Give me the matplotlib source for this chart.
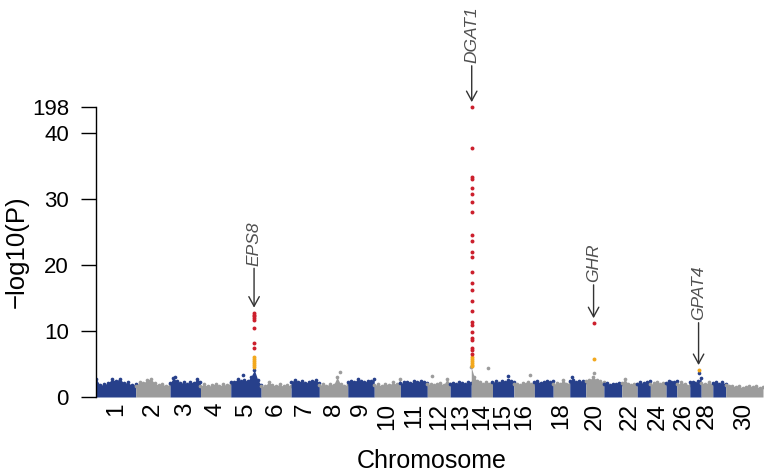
import numpy as np
import matplotlib
matplotlib.use("Agg")
import matplotlib.pyplot as plt

plt.rcParams['font.family'] = ['Liberation Sans', 'DejaVu Sans']

# ---------------- data ----------------
chrom_names = [str(i) for i in range(1, 31)]
chrom_len_mb = [158.3, 137.1, 121.4, 120.7, 121.2, 119.5, 112.6, 113.4, 105.7, 104.3,
                107.3, 91.2, 84.2, 84.6, 85.3, 81.7, 75.2, 66.0, 64.1, 72.0,
                71.6, 61.4, 52.5, 62.7, 42.9, 51.7, 45.4, 46.3, 51.5, 148.8]
shown_labels = ['1', '2', '3', '4', '5', '6', '7', '8', '9', '10', '11', '12', '13',
                '14', '15', '16', '18', '20', '22', '24', '26', '28', '30']

# upper edge of the dense background cloud (-log10 P), read along each chromosome
cloud_top = [
    [2.8, 1.8, 1.9, 2.1, 2.7, 2.4, 2.8, 2.1, 2.2, 1.8, 1.9],
    [1.7, 2.3, 2.1, 2.6, 2.7, 2.1, 1.8, 1.9, 1.7, 1.9],
    [2.1, 2.9, 2.4, 2.1, 2.2, 1.9, 2.3, 2.1, 2.8, 2.3],
    [1.7, 1.9, 1.6, 1.8, 2.0, 1.7, 1.9, 1.8, 2.1],
    [2.2, 2.3, 2.7, 2.4, 2.6, 2.4, 3.1, 4.1, 2.6, 1.8],
    [1.7, 1.6, 2.3, 1.8, 1.7, 1.9, 1.6, 1.8, 1.7],
    [2.3, 2.6, 2.3, 2.4, 2.1, 2.3, 2.4, 2.6, 2.1],
    [1.8, 1.9, 1.7, 2.0, 1.8, 3.0, 1.9, 1.7, 1.9],
    [2.2, 2.5, 2.3, 2.7, 2.4, 2.2, 2.5, 2.4, 2.7],
    [1.8, 1.9, 1.7, 2.0, 1.8, 2.2, 1.9, 2.7],
    [2.1, 2.2, 2.3, 2.1, 2.4, 2.2, 2.5, 2.3, 2.1],
    [1.9, 2.0, 1.8, 1.9, 2.1, 1.8, 2.7, 2.0],
    [2.0, 2.1, 1.9, 2.2, 2.1, 2.0, 2.2, 2.1],
    [4.5, 3.0, 2.4, 2.2, 2.0, 2.3, 2.0, 2.1],
    [2.2, 2.4, 2.1, 2.5, 2.3, 2.6, 2.4, 2.2],
    [1.9, 2.0, 1.8, 2.1, 1.9, 2.2, 2.0, 1.9],
    [2.2, 2.4, 2.1, 2.3, 2.5, 2.2, 2.4],
    [1.9, 2.1, 2.0, 2.6, 2.0, 2.2],
    [2.4, 2.6, 2.3, 2.5, 2.4, 2.2],
    [2.4, 2.6, 3.0, 2.6, 2.4, 2.2],
    [2.0, 2.1, 1.8, 2.0, 1.9, 2.1, 1.9],
    [2.1, 2.7, 2.0, 1.8, 1.9, 2.0],
    [2.0, 2.2, 2.1, 2.3, 2.4],
    [1.9, 2.1, 2.3, 2.0, 2.1, 1.9],
    [2.1, 2.4, 2.3, 2.2, 2.4],
    [1.9, 2.2, 2.0, 1.8],
    [2.2, 2.3, 2.1, 2.4, 2.9],
    [2.1, 2.0, 2.2, 1.9],
    [2.1, 2.3, 2.0, 2.2, 2.0],
    [1.8, 1.6, 1.7, 1.5, 1.6, 1.4, 1.5, 1.7, 1.5, 1.6, 1.4, 1.5],
]

# isolated background SNPs above the cloud
outlier_chrom = [3, 5, 8, 12, 14, 15, 16, 19, 20, 27]
outlier_pos_mb = [20, 50, 83, 18, 68, 63, 65, 8, 31, 35]
outlier_val = [3.0, 3.3, 3.8, 3.2, 4.4, 3.2, 3.4, 3.1, 3.7, 3.7]

# significant loci
genes = ['EPS8', 'DGAT1', 'GHR', 'GPAT4']
gene_chrom = [5, 14, 20, 27]
gene_pos_mb = [93.0, 1.8, 31.0, 35.0]
red_values = [
    [12.8, 12.5, 12.2, 11.9, 11.6, 10.4, 8.2, 7.4],
    [198, 37.8, 33.4, 33.1, 31.7, 30.8, 29.5, 28.1, 24.5, 23.7, 22.0, 21.2, 19.0,
     17.2, 16.2, 14.6, 13.1, 11.3, 10.9, 9.85, 9.0, 8.7, 7.5, 7.1, 6.5],
    [11.2],
    [],
]
orange_values = [
    [6.0, 5.7, 5.4, 5.1, 4.8, 4.6],
    [6.1, 5.8, 5.5, 5.2, 4.9, 4.7],
    [5.75],
    [4.1],
]

y_ticks = [0, 10, 20, 30, 40, 198]

# ---------------- style / layout ----------------
BLUE = '#27408B'
GRAY = '#9C9C9C'
RED = '#CC1F2C'
ORANGE = '#F2A81D'
label_gap_px = [47, 44, 41, 50]

# broken y axis: linear up to 40, compressed above
BREAK = 40.0
K = (43.94 - 40.0) / (198.0 - 40.0)


def fwd(y):
    y = np.asarray(y, dtype=float)
    return np.where(y <= BREAK, y, BREAK + (y - BREAK) * K)


def inv(t):
    t = np.asarray(t, dtype=float)
    return np.where(t <= BREAK, t, BREAK + (t - BREAK) / K)


chrom_start = np.concatenate([[0.0], np.cumsum(chrom_len_mb)[:-1]])
chrom_mid = chrom_start + np.array(chrom_len_mb) / 2.0
total = float(np.sum(chrom_len_mb))

fig = plt.figure(figsize=(7.69, 4.74), dpi=100)
ax = fig.add_axes([96 / 769, 77 / 474, 667 / 769, 297 / 474])
ax.set_yscale('function', functions=(fwd, inv))

# background cloud
for i, tops in enumerate(cloud_top):
    col = BLUE if i % 2 == 0 else GRAY
    xs = chrom_start[i] + np.linspace(0, chrom_len_mb[i], len(tops))
    ax.fill_between(xs, 0, tops, color=col, lw=0, zorder=2)
    ax.scatter(xs, tops, s=7, color=col, lw=0, zorder=2)

for c, p, v in zip(outlier_chrom, outlier_pos_mb, outlier_val):
    col = BLUE if (c - 1) % 2 == 0 else GRAY
    ax.scatter([chrom_start[c - 1] + p], [v], s=7, color=col, lw=0, zorder=2)

# significant SNPs
for g in range(len(genes)):
    gx = chrom_start[gene_chrom[g] - 1] + gene_pos_mb[g]
    ov = orange_values[g]
    rv = red_values[g]
    if ov:
        ax.scatter([gx] * len(ov), ov, s=8, color=ORANGE, lw=0, zorder=3)
    if rv:
        ax.scatter([gx] * len(rv), rv, s=8, color=RED, lw=0, zorder=4)
    top = max(rv + ov)
    ax.annotate(genes[g], xy=(gx, top), xytext=(0, label_gap_px[g]),
                textcoords='offset pixels', rotation=90, ha='center', va='bottom',
                fontsize=12.5, style='italic', color='#505050',
                arrowprops=dict(arrowstyle='->,head_length=0.55,head_width=0.3',
                                color='#333333', lw=1.0, shrinkA=0, shrinkB=3.5),
                annotation_clip=False, zorder=5)

ax.set_xlim(0, total)
ax.set_ylim(0, float(inv(45.0)))

ax.set_yticks(y_ticks)
ax.set_yticklabels([str(t) for t in y_ticks])
ax.yaxis.set_minor_locator(matplotlib.ticker.NullLocator())
ax.tick_params(axis='y', length=10.5, width=1.0, pad=9, labelsize=16, colors='black')

tick_pos = [chrom_mid[chrom_names.index(l)] for l in shown_labels]
ax.set_xticks(tick_pos)
ax.set_xticklabels(shown_labels, rotation=90)
ax.tick_params(axis='x', length=0, pad=4, labelsize=17.5)

for s in ['top', 'right', 'bottom']:
    ax.spines[s].set_visible(False)
ax.spines['left'].set_bounds(0, 198)
ax.spines['left'].set_linewidth(1.0)
ax.patch.set_alpha(0)

fig.text(17 / 769, 1 - 252 / 474, '\u2212log10(P)', rotation=90, ha='center',
         va='center', fontsize=18.5)
fig.text(432 / 769, 1 - 468 / 474, 'Chromosome', ha='center', va='baseline',
         fontsize=18)

fig.savefig('out.png', dpi=100)
